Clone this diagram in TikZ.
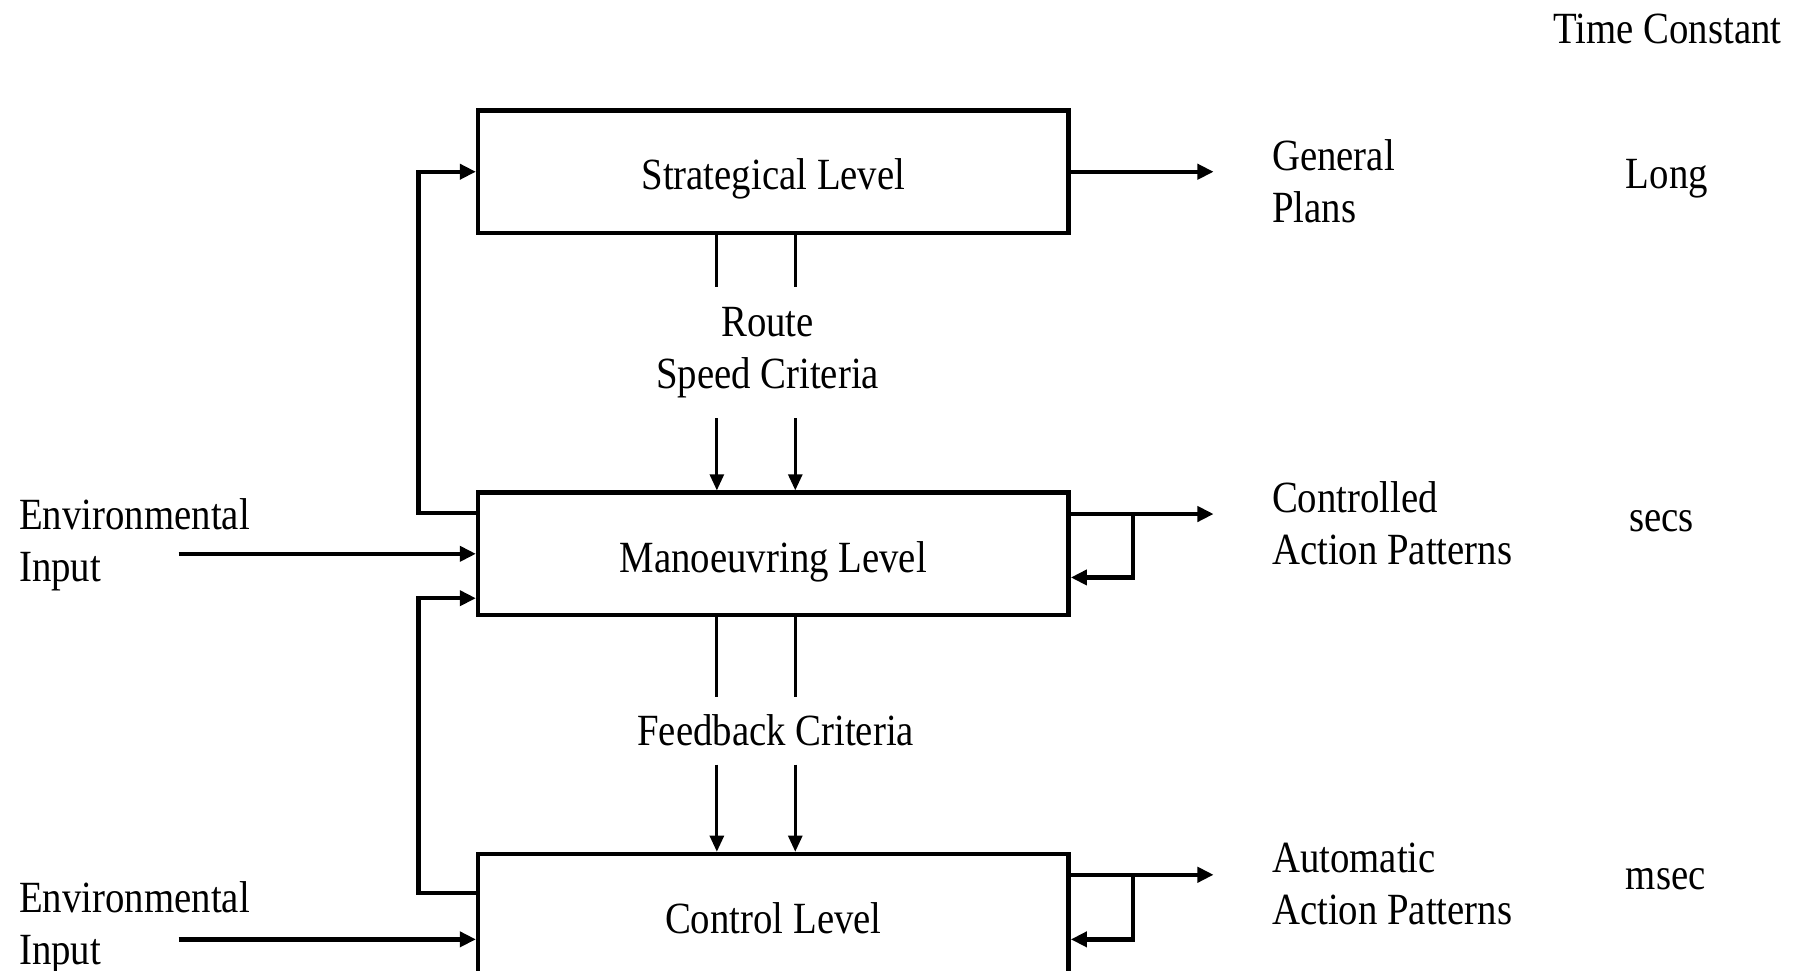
\documentclass[tikz,border=0pt]{standalone}
\usepackage{fontspec}
\setmainfont{Liberation Serif}[FakeStretch=0.87]
\usepackage{tikz}
\usetikzlibrary{arrows.meta,positioning,calc}

\begin{document}
\begin{tikzpicture}[
    x=0.01cm, y=-0.01cm,
    font=\fontsize{11}{12.8}\selectfont,
    level/.style={rectangle, draw, line width=1.1pt, minimum width=5.12cm, minimum height=1.06cm, text height=11pt, text depth=2pt, align=center},
    lbl/.style={inner sep=0pt, align=left, anchor=west},
    crit/.style={inner sep=0pt, align=center},
    arrow/.style={-{Triangle[length=1.4mm, width=1.3mm]}, line width=1.1pt},
    thinarrow/.style={-{Triangle[length=1.4mm, width=1.2mm]}, line width=0.8pt},
    thinline/.style={line width=0.8pt}
]
    \useasboundingbox (0,0) rectangle (1560,842);
    \clip (0,0) rectangle (1560,842);

    % Levels
    \node[level] (strat) at (671,149) {Strategical Level};
    \node[level] (mano) at (671,480.5) {Manoeuvring Level};
    \node[level] (ctrl) at (671,794) {Control Level};

    % Outputs and time constants
    \node[lbl] (tc) at (1347,25) {Time Constant};
    \node[lbl] (plans) at (1103,157) {General\\Plans};
    \node[lbl] (long) at (1410,155) {Long};
    \node[lbl] (cap) at (1103,454) {Controlled\\Action Patterns};
    \node[lbl] (secs) at (1413,452) {secs};
    \node[lbl] (aap) at (1103,767) {Automatic\\Action Patterns};
    \node[lbl] (msec) at (1410,763) {msec};

    % Environmental inputs
    \node[lbl] (env1) at (16,473) {Environmental\\Input};
    \node[lbl] (env2) at (16,805) {Environmental\\Input};
    \coordinate (env1src) at (155,480.5);
    \coordinate (env2src) at (155,815);

    % Criteria between levels
    \node[crit, inner ysep=0.17cm] (route) at (666,306) {Route\\Speed Criteria};
    \node[crit, inner ysep=0.15cm] (fbc) at (673,634) {Feedback Criteria};

    % Strategical -> Manoeuvring
    \draw[thinline] ([xshift=-0.49cm]strat.south) -- ([xshift=-0.49cm]strat.south |- route.north);
    \draw[thinline] ([xshift=0.19cm]strat.south) -- ([xshift=0.19cm]strat.south |- route.north);
    \draw[thinarrow] ([xshift=-0.49cm]mano.north |- route.south) -- ([xshift=-0.49cm]mano.north);
    \draw[thinarrow] ([xshift=0.19cm]mano.north |- route.south) -- ([xshift=0.19cm]mano.north);

    % Manoeuvring -> Control
    \draw[thinline] ([xshift=-0.49cm]mano.south) -- ([xshift=-0.49cm]mano.south |- fbc.north);
    \draw[thinline] ([xshift=0.19cm]mano.south) -- ([xshift=0.19cm]mano.south |- fbc.north);
    \draw[thinarrow] ([xshift=-0.49cm]ctrl.north |- fbc.south) -- ([xshift=-0.49cm]ctrl.north);
    \draw[thinarrow] ([xshift=0.19cm]ctrl.north |- fbc.south) -- ([xshift=0.19cm]ctrl.north);

    % Feedback on the left
    \draw[arrow] ([yshift=0.355cm]mano.west) -- ++(-50,0) |- (strat.west);
    \draw[arrow] ([yshift=0.19cm]ctrl.west) -- ++(-50,0) |- ([yshift=-0.385cm]mano.west);

    % Environmental input arrows
    \draw[arrow] (env1src) -- (env1src -| mano.west);
    \draw[arrow] (env2src) -- (env2src -| ctrl.west);

    % Outputs on the right
    \draw[arrow, shorten >=0.5cm] (strat.east) -- (strat.east -| plans.west);
    \draw[arrow, shorten >=0.5cm] ([yshift=0.345cm]mano.east) -- ([yshift=0.345cm]mano.east -| cap.west);
    \draw[arrow, shorten >=0.5cm] ([yshift=0.35cm]ctrl.east) -- ([yshift=0.35cm]ctrl.east -| aap.west);

    % Self loops
    \draw[arrow] ([xshift=0.54cm, yshift=0.345cm]mano.east) |- ([yshift=-0.205cm]mano.east);
    \draw[arrow] ([xshift=0.54cm, yshift=0.35cm]ctrl.east) |- ([yshift=-0.21cm]ctrl.east);
\end{tikzpicture}
\end{document}
